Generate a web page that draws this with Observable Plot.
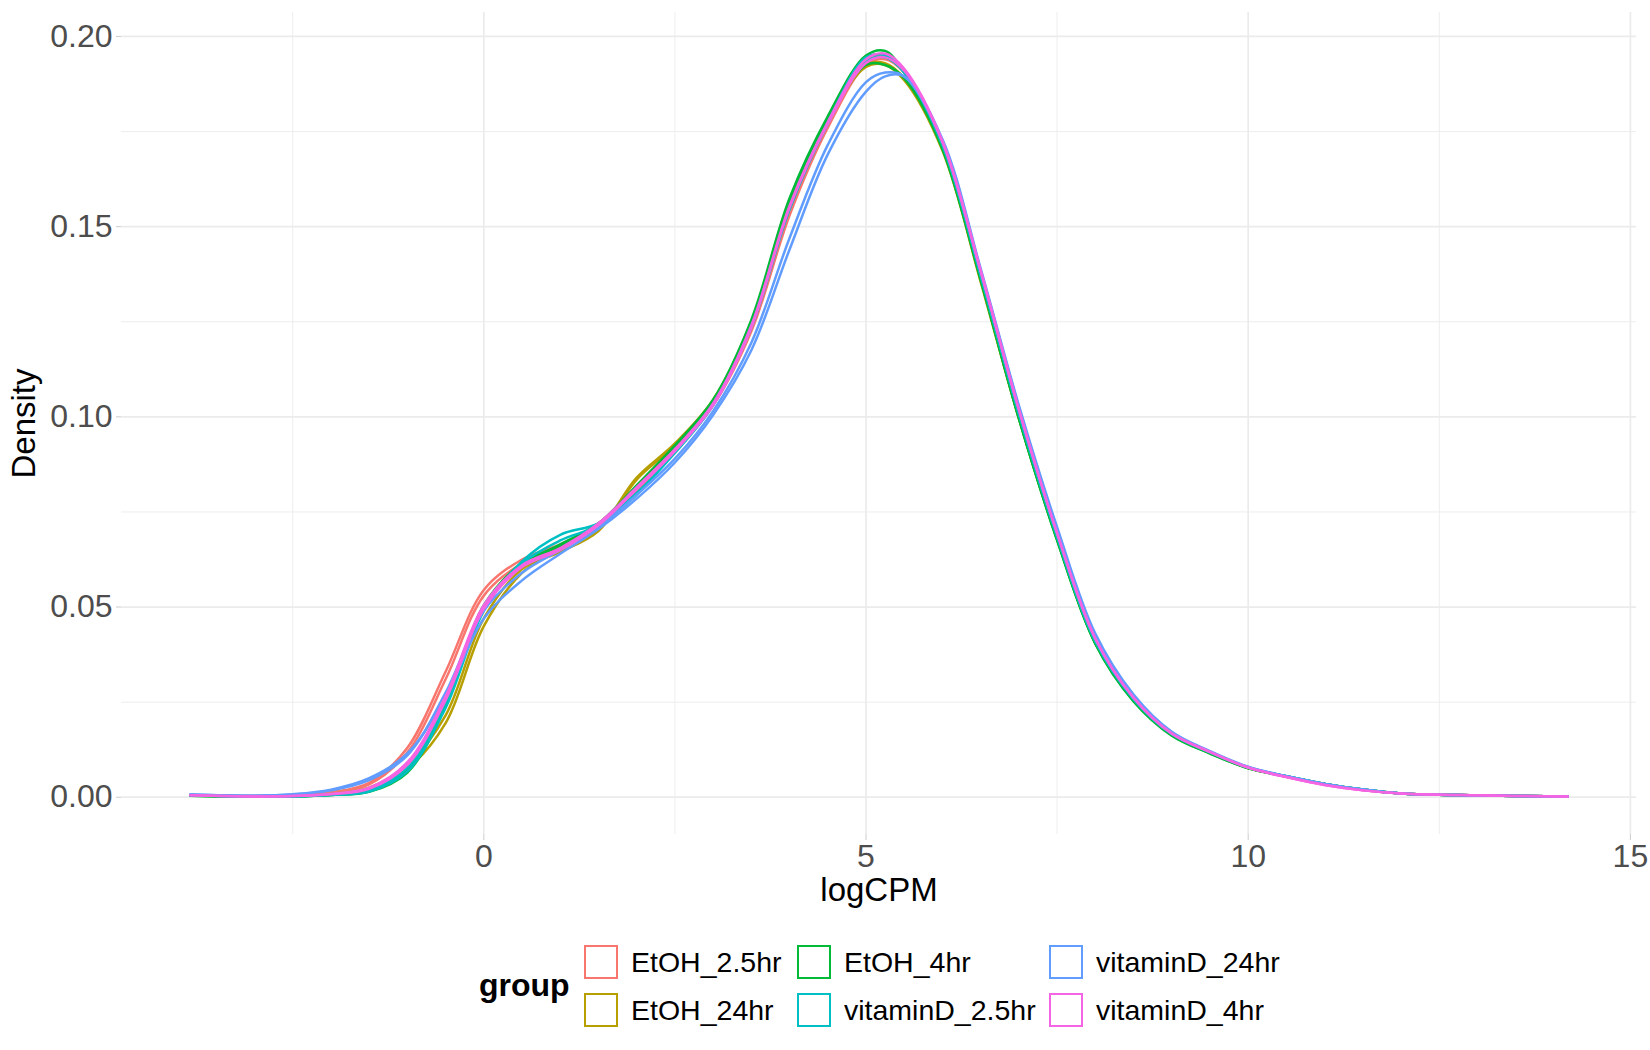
<!DOCTYPE html>
<html>
<head>
<meta charset="utf-8">
<script src="https://cdn.jsdelivr.net/npm/d3@7"></script>
<script src="https://cdn.jsdelivr.net/npm/@observablehq/plot@0.6"></script>
<style>
  body { margin: 0; background: #fff; font-family: "Liberation Sans", Arial, sans-serif; }
  #wrap { position: relative; width: 1650px; height: 1050px; }
  .lg-title { position: absolute; font-weight: bold; font-size: 32px; color: #000; }
  .lg-key { position: absolute; width: 30px; height: 30px; border: 2px solid; background: #fff; }
  .lg-lab { position: absolute; font-size: 28.5px; color: #000; white-space: nowrap; }
</style>
</head>
<body>
<div id="wrap"></div>
<script>
// x grid of the density curves (logCPM)
const xs = [-3.84,-3,-2.5,-2,-1.5,-1,-0.5,0,0.5,1,1.5,2,2.5,3,3.5,4,4.5,5,5.25,5.5,6,6.5,7,7.5,8,8.5,9,9.5,10,10.5,11,11.5,12,13,14.18];

const groups = ["EtOH_2.5hr","EtOH_24hr","EtOH_4hr","vitaminD_2.5hr","vitaminD_24hr","vitaminD_4hr"];
const colors = ["#F8766D","#B79F00","#00BA38","#00BFC4","#619CFF","#F564E3"];

// density values per sample
const etoh25_a = [0.0006,0.0003,0.0005,0.0013,0.0038,0.0130,0.0330,0.0545,0.0625,0.0665,0.0715,0.0805,0.0910,0.1030,0.1225,0.1530,0.1760,0.1925,0.1940,0.1905,0.1715,0.1370,0.1010,0.0685,0.0410,0.0258,0.0166,0.0118,0.0078,0.0054,0.0034,0.0019,0.0010,0.0005,0.0002];
const etoh25_b = [0.0006,0.0003,0.0004,0.0012,0.0034,0.0118,0.0310,0.0530,0.0615,0.0660,0.0720,0.0810,0.0915,0.1035,0.1230,0.1535,0.1765,0.1935,0.1950,0.1910,0.1720,0.1375,0.1012,0.0688,0.0412,0.0259,0.0167,0.0118,0.0078,0.0054,0.0034,0.0019,0.0010,0.0005,0.0002];
const etoh24_a = [0.0005,0.0002,0.0003,0.0008,0.0022,0.0075,0.0195,0.0450,0.0590,0.0655,0.0705,0.0840,0.0930,0.1045,0.1250,0.1570,0.1780,0.1920,0.1925,0.1885,0.1700,0.1355,0.0995,0.0678,0.0405,0.0255,0.0165,0.0117,0.0077,0.0055,0.0035,0.0020,0.0010,0.0005,0.0002];
const etoh24_b = [0.0005,0.0002,0.0003,0.0009,0.0025,0.0085,0.0215,0.0470,0.0600,0.0645,0.0700,0.0835,0.0925,0.1040,0.1245,0.1565,0.1775,0.1925,0.1930,0.1890,0.1705,0.1360,0.0998,0.0680,0.0407,0.0256,0.0166,0.0117,0.0077,0.0055,0.0035,0.0020,0.0010,0.0005,0.0002];
const etoh4_a  = [0.0004,0.0001,0.0002,0.0006,0.0014,0.0065,0.0240,0.0500,0.0610,0.0665,0.0720,0.0820,0.0925,0.1045,0.1255,0.1575,0.1790,0.1950,0.1962,0.1905,0.1705,0.1360,0.0995,0.0675,0.0403,0.0252,0.0162,0.0115,0.0076,0.0055,0.0035,0.0020,0.0010,0.0005,0.0002];
const etoh4_b  = [0.0004,0.0001,0.0002,0.0006,0.0016,0.0072,0.0250,0.0505,0.0615,0.0660,0.0710,0.0815,0.0920,0.1040,0.1250,0.1565,0.1780,0.1925,0.1925,0.1890,0.1705,0.1362,0.0997,0.0677,0.0405,0.0254,0.0164,0.0116,0.0077,0.0055,0.0035,0.0020,0.0010,0.0005,0.0002];
const vitd25_a = [0.0005,0.0001,0.0002,0.0006,0.0015,0.0068,0.0235,0.0490,0.0620,0.0690,0.0720,0.0800,0.0905,0.1030,0.1240,0.1550,0.1775,0.1945,0.1950,0.1910,0.1715,0.1372,0.1008,0.0685,0.0410,0.0258,0.0166,0.0118,0.0078,0.0055,0.0035,0.0020,0.0010,0.0005,0.0002];
const vitd25_b = [0.0005,0.0001,0.0002,0.0007,0.0018,0.0078,0.0250,0.0500,0.0615,0.0675,0.0715,0.0795,0.0910,0.1035,0.1235,0.1545,0.1770,0.1935,0.1945,0.1905,0.1715,0.1372,0.1008,0.0685,0.0410,0.0258,0.0166,0.0118,0.0078,0.0055,0.0035,0.0020,0.0010,0.0005,0.0002];
const vitd24_a = [0.0007,0.0004,0.0008,0.0020,0.0050,0.0115,0.0265,0.0470,0.0570,0.0640,0.0705,0.0785,0.0880,0.1005,0.1175,0.1440,0.1690,0.1855,0.1895,0.1895,0.1730,0.1390,0.1030,0.0710,0.0430,0.0270,0.0172,0.0121,0.0080,0.0055,0.0035,0.0020,0.0010,0.0005,0.0002];
const vitd24_b = [0.0007,0.0004,0.0007,0.0018,0.0045,0.0110,0.0275,0.0490,0.0590,0.0650,0.0710,0.0795,0.0890,0.1015,0.1195,0.1470,0.1715,0.1880,0.1905,0.1895,0.1725,0.1385,0.1025,0.0705,0.0425,0.0268,0.0171,0.0120,0.0079,0.0055,0.0035,0.0020,0.0010,0.0005,0.0002];
const vitd4_a  = [0.0005,0.0002,0.0003,0.0009,0.0025,0.0092,0.0265,0.0505,0.0610,0.0655,0.0720,0.0815,0.0915,0.1035,0.1240,0.1555,0.1775,0.1940,0.1955,0.1915,0.1725,0.1385,0.1020,0.0695,0.0418,0.0262,0.0168,0.0119,0.0078,0.0053,0.0032,0.0018,0.0010,0.0005,0.0002];
const vitd4_b  = [0.0005,0.0002,0.0003,0.0008,0.0022,0.0085,0.0255,0.0495,0.0605,0.0650,0.0715,0.0810,0.0910,0.1030,0.1235,0.1550,0.1770,0.1930,0.1945,0.1910,0.1722,0.1382,0.1018,0.0693,0.0416,0.0261,0.0167,0.0119,0.0078,0.0053,0.0032,0.0018,0.0010,0.0005,0.0002];

const sampleNames  = ["etoh25_a","etoh25_b","etoh24_a","etoh24_b","etoh4_a","etoh4_b","vitd25_a","vitd25_b","vitd24_a","vitd24_b","vitd4_a","vitd4_b"];
const sampleGroups = ["EtOH_2.5hr","EtOH_2.5hr","EtOH_24hr","EtOH_24hr","EtOH_4hr","EtOH_4hr","vitaminD_2.5hr","vitaminD_2.5hr","vitaminD_24hr","vitaminD_24hr","vitaminD_4hr","vitaminD_4hr"];
const sampleValues = [etoh25_a,etoh25_b,etoh24_a,etoh24_b,etoh4_a,etoh4_b,vitd25_a,vitd25_b,vitd24_a,vitd24_b,vitd4_a,vitd4_b];

const xMajor = [0,5,10,15];
const xMinor = [-2.5,2.5,7.5,12.5];
const yMajor = [0,0.05,0.10,0.15,0.20];
const yMinor = [0.025,0.075,0.125,0.175];

// legend order (ggplot fills columns first)
const legendOrder = [["EtOH_2.5hr","EtOH_24hr"],["EtOH_4hr","vitaminD_2.5hr"],["vitaminD_24hr","vitaminD_4hr"]];

const rows = [];
sampleValues.forEach((vals, i) => {
  vals.forEach((v, j) => rows.push({sample: sampleNames[i], group: sampleGroups[i], x: xs[j], y: v}));
});

const grid = "#EBEBEB";
const chart = Plot.plot({
  width: 1650,
  height: 910,
  marginLeft: 121,
  marginRight: 14,
  marginTop: 12,
  marginBottom: 76,
  style: {fontFamily: "'Liberation Sans', Arial, sans-serif", background: "#fff"},
  x: {domain: [-4.74, 15.08]},
  y: {domain: [-0.0098, 0.2063]},
  color: {domain: groups, range: colors},
  marks: [
    Plot.ruleY(yMinor, {stroke: grid, strokeWidth: 0.9}),
    Plot.ruleX(xMinor, {stroke: grid, strokeWidth: 0.9}),
    Plot.ruleY(yMajor, {stroke: grid, strokeWidth: 1.7}),
    Plot.ruleX(xMajor, {stroke: grid, strokeWidth: 1.7}),
    Plot.axisY({ticks: yMajor, tickFormat: d3.format(".2f"), tickSize: 5, tickPadding: 4, fontSize: 32, fill: "#4D4D4D", stroke: "#CCCCCC", label: null}),
    Plot.axisX({ticks: xMajor, tickFormat: d3.format("d"), tickSize: 6, tickPadding: 4, fontSize: 32, fill: "#4D4D4D", stroke: "#CCCCCC", label: null}),
    Plot.line(rows, {x: "x", y: "y", z: "sample", stroke: "group", strokeWidth: 2.5, curve: "catmull-rom"}),
    Plot.text(["logCPM"], {frameAnchor: "bottom", lineAnchor: "middle", textAnchor: "middle", dy: 56, fontSize: 33, fill: "#000"}),
    Plot.text(["Density"], {frameAnchor: "left", lineAnchor: "middle", textAnchor: "middle", dx: -97, rotate: -90, fontSize: 33, fill: "#000"})
  ]
});

const wrap = document.getElementById("wrap");
wrap.appendChild(chart);

// legend
const t = document.createElement("div");
t.className = "lg-title";
t.textContent = "group";
t.style.left = "479px";
t.style.top = "967px";
wrap.appendChild(t);

const colKeyX = [584, 797, 1049];
const rowKeyY = [945, 993];
legendOrder.forEach((col, ci) => {
  col.forEach((g, ri) => {
    const k = document.createElement("div");
    k.className = "lg-key";
    k.style.left = colKeyX[ci] + "px";
    k.style.top = rowKeyY[ri] + "px";
    k.style.borderColor = colors[groups.indexOf(g)];
    wrap.appendChild(k);
    const l = document.createElement("div");
    l.className = "lg-lab";
    l.textContent = g;
    l.style.left = (colKeyX[ci] + 47) + "px";
    l.style.top = (rowKeyY[ri] + 1) + "px";
    l.style.lineHeight = "32px";
    wrap.appendChild(l);
  });
});
</script>
</body>
</html>
